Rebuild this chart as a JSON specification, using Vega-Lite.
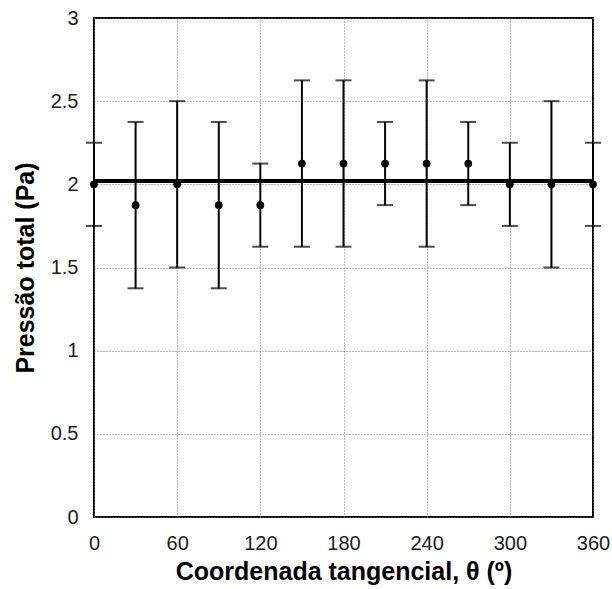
{
  "$schema": "https://vega.github.io/schema/vega-lite/v6.json",
  "autosize": "none",
  "width": 499,
  "height": 499,
  "padding": {"left": 94, "top": 18, "right": 19, "bottom": 72},
  "background": "white",
  "config": {
    "view": {"stroke": "black", "strokeWidth": 2},
    "font": "Liberation Sans",
    "axis": {
      "grid": true,
      "gridColor": "#777777",
      "gridDash": [1, 2],
      "gridWidth": 1,
      "domain": false,
      "ticks": false,
      "labelFont": "Liberation Sans",
      "labelFontSize": 20,
      "labelColor": "#1a1a1a",
      "labelFlush": false,
      "labelOverlap": false,
      "titleFont": "Liberation Sans",
      "titleFontSize": 25,
      "titleFontWeight": "bold",
      "titleColor": "black"
    }
  },
  "data": {
    "values": [
      {"theta": 0, "p": 2.0, "lo": 1.75, "hi": 2.25},
      {"theta": 30, "p": 1.875, "lo": 1.375, "hi": 2.375},
      {"theta": 60, "p": 2.0, "lo": 1.5, "hi": 2.5},
      {"theta": 90, "p": 1.875, "lo": 1.375, "hi": 2.375},
      {"theta": 120, "p": 1.875, "lo": 1.625, "hi": 2.125},
      {"theta": 150, "p": 2.125, "lo": 1.625, "hi": 2.625},
      {"theta": 180, "p": 2.125, "lo": 1.625, "hi": 2.625},
      {"theta": 210, "p": 2.125, "lo": 1.875, "hi": 2.375},
      {"theta": 240, "p": 2.125, "lo": 1.625, "hi": 2.625},
      {"theta": 270, "p": 2.125, "lo": 1.875, "hi": 2.375},
      {"theta": 300, "p": 2.0, "lo": 1.75, "hi": 2.25},
      {"theta": 330, "p": 2.0, "lo": 1.5, "hi": 2.5},
      {"theta": 360, "p": 2.0, "lo": 1.75, "hi": 2.25}
    ]
  },
  "layer": [
    {
      "mark": {"type": "errorbar", "ticks": {"size": 16, "color": "black", "thickness": 2}, "rule": {"color": "black", "strokeWidth": 2}},
      "encoding": {
        "x": {
          "field": "theta", "type": "quantitative",
          "scale": {"domain": [0, 360], "nice": false},
          "axis": {"values": [0, 60, 120, 180, 240, 300, 360], "labelPadding": 16, "titleY": 62, "titleBaseline": "alphabetic"},
          "title": "Coordenada tangencial, θ (º)"
        },
        "y": {
          "field": "lo", "type": "quantitative",
          "scale": {"domain": [0, 3], "nice": false},
          "axis": {"values": [0, 0.5, 1, 1.5, 2, 2.5, 3], "format": "~g", "labelPadding": 16, "titleX": -61, "titleBaseline": "alphabetic"},
          "title": "Pressão total (Pa)"
        },
        "y2": {"field": "hi"}
      }
    },
    {
      "mark": {"type": "rule", "color": "black", "strokeWidth": 2.5},
      "encoding": {"y": {"datum": 2.02}}
    },
    {
      "mark": {"type": "point", "filled": true, "color": "black", "opacity": 1, "size": 60, "shape": "circle"},
      "encoding": {
        "x": {"field": "theta", "type": "quantitative"},
        "y": {"field": "p", "type": "quantitative"}
      }
    }
  ]
}
